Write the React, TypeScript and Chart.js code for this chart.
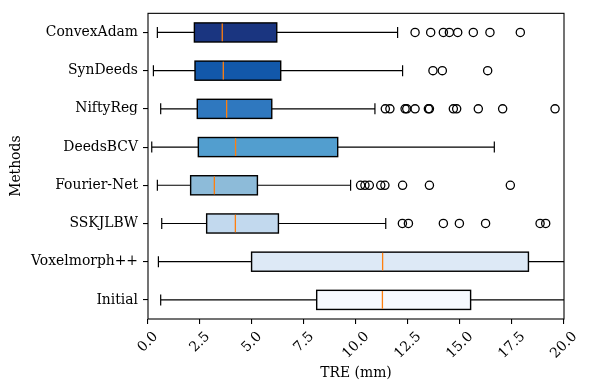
import React, { useEffect, useRef } from "react";
import { Chart, registerables } from "chart.js";

Chart.register(...registerables);

const methods = ["ConvexAdam", "SynDeeds", "NiftyReg", "DeedsBCV", "Fourier-Net", "SSKJLBW", "Voxelmorph++", "Initial"];
const whiskerLow = [0.45, 0.26, 0.61, 0.18, 0.45, 0.66, 0.5, 0.61];
const q1 = [2.23, 2.26, 2.37, 2.42, 2.05, 2.82, 4.98, 8.11];
const median = [3.57, 3.62, 3.78, 4.21, 3.19, 4.2, 11.28, 11.27];
const q3 = [6.19, 6.38, 5.95, 9.12, 5.26, 6.27, 18.29, 15.51];
const whiskerHigh = [12.0, 12.24, 10.91, 16.65, 9.74, 11.43, 24.0, 24.0];
const outliers: number[][] = [
  [12.84, 13.59, 14.2, 14.49, 14.89, 15.64, 16.44, 17.9],
  [13.7, 14.15, 16.33],
  [11.41, 11.63, 12.36, 12.44, 12.84, 13.48, 13.53, 14.68, 14.84, 15.88, 17.05, 19.57],
  [],
  [10.22, 10.43, 10.64, 11.19, 11.39, 12.24, 13.53, 17.42],
  [12.23, 12.52, 14.2, 14.97, 16.23, 18.85, 19.12],
  [],
  [],
];
const boxColors = ["#1a3580", "#1258aa", "#2f78bf", "#529ecf", "#8dbbd9", "#c2d9ee", "#dde9f6", "#f6f9fe"];
const xTicks = [0, 2.5, 5, 7.5, 10, 12.5, 15, 17.5, 20];
const xTitle = "TRE (mm)";
const yTitle = "Methods";

const FONT = "DejaVu Serif";
const FS = 13.9;

const boxPlugin = {
  id: "boxExtras",
  afterDatasetsDraw(chart: any) {
    const { ctx, chartArea } = chart;
    const xs = chart.scales.x;
    const ys = chart.scales.y;
    const capHalf = 5.5;
    ctx.save();
    ctx.beginPath();
    ctx.rect(chartArea.left, chartArea.top, chartArea.right - chartArea.left, chartArea.bottom - chartArea.top);
    ctx.clip();
    methods.forEach((m, i) => {
      const y = ys.getPixelForValue(i);
      const bar = chart.getDatasetMeta(0).data[i];
      const half = bar.height / 2;
      ctx.strokeStyle = "#000";
      ctx.lineWidth = 1.2;
      const xl = xs.getPixelForValue(whiskerLow[i]);
      const xq1 = xs.getPixelForValue(q1[i]);
      const xq3 = xs.getPixelForValue(q3[i]);
      const xh = xs.getPixelForValue(whiskerHigh[i]);
      ctx.beginPath();
      ctx.moveTo(xl, y); ctx.lineTo(xq1, y);
      ctx.moveTo(xq3, y); ctx.lineTo(xh, y);
      ctx.moveTo(xl, y - capHalf); ctx.lineTo(xl, y + capHalf);
      ctx.moveTo(xh, y - capHalf); ctx.lineTo(xh, y + capHalf);
      ctx.stroke();
      // box outline
      ctx.lineWidth = 1.4;
      ctx.strokeRect(xq1, y - half, xq3 - xq1, 2 * half);
      // median
      const xm = xs.getPixelForValue(median[i]);
      ctx.strokeStyle = "#ff7f0e";
      ctx.lineWidth = 1.3;
      ctx.beginPath();
      ctx.moveTo(xm, y - half + 0.7); ctx.lineTo(xm, y + half - 0.7);
      ctx.stroke();
      // outliers
      ctx.strokeStyle = "#000";
      ctx.lineWidth = 1.3;
      outliers[i].forEach((v) => {
        const xo = xs.getPixelForValue(v);
        ctx.beginPath();
        ctx.arc(xo, y, 4.1, 0, Math.PI * 2);
        ctx.stroke();
      });
    });
    ctx.restore();

    // frame
    ctx.save();
    ctx.strokeStyle = "#000";
    ctx.lineWidth = 1.1;
    ctx.strokeRect(chartArea.left, chartArea.top, chartArea.right - chartArea.left, chartArea.bottom - chartArea.top);
    ctx.restore();

    // x tick labels rotated 45, centered on tick
    ctx.save();
    ctx.fillStyle = "#000";
    ctx.font = `${FS}px "${FONT}"`;
    ctx.textAlign = "center";
    ctx.textBaseline = "middle";
    const top = chartArea.bottom + 4.9 + 4.9;
    xTicks.forEach((v) => {
      const label = v.toFixed(1);
      const w = ctx.measureText(label).width;
      const h = FS * 1.15;
      const bh = (w + h) * Math.SQRT1_2;
      const x = xs.getPixelForValue(v);
      ctx.save();
      ctx.translate(x, top + bh / 2);
      ctx.rotate(-Math.PI / 4);
      ctx.fillText(label, 0, 0);
      ctx.restore();
    });
    // axis titles
    ctx.fillText(xTitle, (chartArea.left + chartArea.right) / 2, 373);
    ctx.save();
    ctx.translate(16, (chartArea.top + chartArea.bottom) / 2);
    ctx.rotate(-Math.PI / 2);
    ctx.fillText(yTitle, 0, 0);
    ctx.restore();
    ctx.restore();
  },
};

export default function App() {
  const ref = useRef<HTMLCanvasElement | null>(null);
  useEffect(() => {
    document.body.style.margin = "0";
    const canvas = ref.current!;
    const chart = new Chart(canvas, {
      type: "bar",
      data: {
        labels: methods,
        datasets: [
          {
            data: methods.map((_, i) => [q1[i], q3[i]]) as any,
            backgroundColor: boxColors,
            borderWidth: 0,
            borderSkipped: false,
            barPercentage: 0.5,
            categoryPercentage: 1.0,
          },
        ],
      },
      options: {
        indexAxis: "y",
        responsive: false,
        animation: false,
        devicePixelRatio: 1,
        layout: { padding: { left: 0, top: 10, right: 26, bottom: 0 } },
        plugins: { legend: { display: false }, tooltip: { enabled: false }, title: { display: false } },
        scales: {
          x: {
            type: "linear",
            min: 0,
            max: 20,
            afterBuildTicks: (s: any) => {
              s.ticks = xTicks.map((v) => ({ value: v }));
            },
            afterFit: (s: any) => {
              s.height = 71;
            },
            border: { display: false },
            grid: { display: true, drawOnChartArea: false, drawTicks: true, tickLength: 5, color: "#000", lineWidth: 1.1 },
            ticks: { color: "rgba(0,0,0,0)", font: { family: FONT, size: FS }, maxRotation: 0, minRotation: 0 },
          },
          y: {
            type: "category",
            offset: true,
            afterFit: (s: any) => {
              s.width = 148;
            },
            border: { display: false },
            grid: { display: true, offset: false, drawOnChartArea: false, drawTicks: true, tickLength: 5, color: "#000", lineWidth: 1.1 },
            ticks: { color: "#000", padding: 5, font: { family: FONT, size: FS } },
          },
        },
      },
      plugins: [boxPlugin],
    } as any);
    return () => chart.destroy();
  }, []);
  return (
    <div style={{ width: 590, height: 390 }}>
      <canvas ref={ref} width={590} height={390} style={{ display: "block", width: 590, height: 390 }} />
    </div>
  );
}
